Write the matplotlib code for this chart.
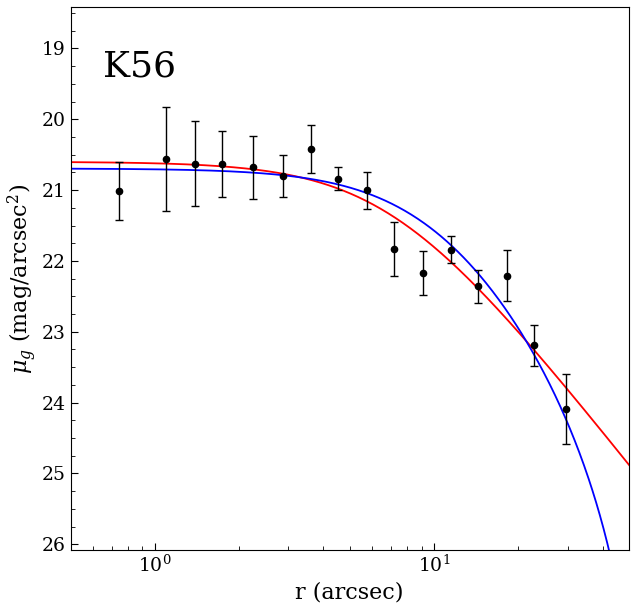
import numpy as np
import matplotlib
matplotlib.use("Agg")
import matplotlib.pyplot as plt
from matplotlib.ticker import MultipleLocator

plt.rcParams['font.family'] = ['DejaVu Serif']
plt.rcParams['mathtext.fontset'] = 'dejavuserif'

# Data
r_arcsec = [0.744, 1.098, 1.396, 1.746, 2.251, 2.870, 3.62, 4.515, 5.755, 7.20,
            9.08, 11.44, 14.31, 18.2, 22.77, 29.6]
mu_g = [21.01, 20.56, 20.63, 20.63, 20.68, 20.80, 20.42, 20.84, 21.00, 21.83,
        22.17, 21.84, 22.36, 22.21, 23.19, 24.09]
mu_err = [0.41, 0.73, 0.60, 0.47, 0.44, 0.30, 0.34, 0.16, 0.26, 0.385,
          0.31, 0.185, 0.235, 0.36, 0.29, 0.50]

# Model parameters (estimated from the curves)
eff_mu0, eff_a, eff_gamma = 20.60, 7.0, 2.0        # red: EFF profile
king_mu0, king_rc, king_rt = 20.695, 10.5, 60.0     # blue: King profile

label_text = "K56"


def eff(r):
    return eff_mu0 + 1.25 * eff_gamma * np.log10(1 + (r / eff_a) ** 2)


def king(r):
    c = 1 / np.sqrt(1 + (king_rt / king_rc) ** 2)
    f = (1 / np.sqrt(1 + (r / king_rc) ** 2) - c) / (1 - c)
    f = np.where(f > 0, f, np.nan)
    return king_mu0 - 5 * np.log10(f)


fig = plt.figure(figsize=(6.34, 6.08), dpi=100)
ax = fig.add_axes([70.7 / 634, 1 - 550 / 608, (628.7 - 70.7) / 634, (550 - 7.3) / 608])

rr = np.logspace(np.log10(0.5), np.log10(50), 600)
ax.plot(rr, eff(rr), color='red', lw=1.3)
ax.plot(rr, king(rr), color='blue', lw=1.3)

ax.errorbar(r_arcsec, mu_g, yerr=mu_err, fmt='o', color='black', ms=4.5,
            ecolor='black', elinewidth=1, capsize=3, capthick=1)

ax.set_xscale('log')
ax.set_xlim(0.5, 49.6)
ax.set_ylim(26.08, 18.42)
ax.yaxis.set_major_locator(MultipleLocator(1))
ax.yaxis.set_minor_locator(MultipleLocator(0.25))
ax.tick_params(which='both', direction='in', top=False, right=False, labelsize=13.5)
ax.tick_params(which='major', length=5)
ax.tick_params(which='minor', length=3)

ax.set_xlabel('r (arcsec)', fontsize=16)
ax.set_ylabel(r'$\mu_g$ (mag/arcsec$^2$)', fontsize=16, labelpad=2)
ax.text(0.058, 0.89, label_text, transform=ax.transAxes, fontsize=26,
        va='center', ha='left')

fig.savefig('out.png', dpi=100)
